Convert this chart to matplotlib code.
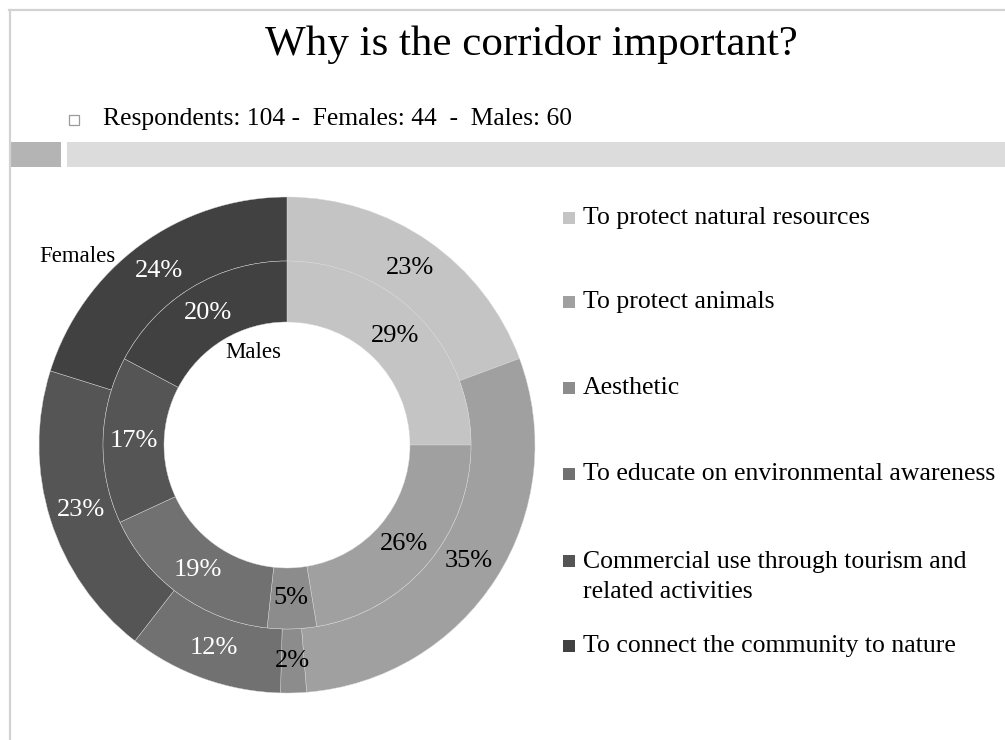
import numpy as np
import matplotlib
matplotlib.use("Agg")
import matplotlib.pyplot as plt
from matplotlib.patches import Rectangle
from matplotlib.lines import Line2D

plt.rcParams['font.family'] = ['Liberation Serif', 'DejaVu Serif']

# Survey answers (percent of respondents in each group)
categories = [
    "To protect natural resources",
    "To protect animals",
    "Aesthetic",
    "To educate on environmental awareness",
    "Commercial use through tourism and\nrelated activities",
    "To connect the community to nature",
]
females = [23, 35, 2, 12, 23, 24]
males = [29, 26, 5, 19, 17, 20]
colors = ["#c4c4c4", "#a0a0a0", "#8c8c8c", "#717171", "#555555", "#414141"]
label_colors = ["black", "black", "black", "white", "white", "white"]

title = "Why is the corridor important?"
subtitle = "Respondents: 104 -  Females: 44  -  Males: 60"

W, H = 1005, 740
fig = plt.figure(figsize=(W / 100, H / 100), dpi=100)

def fx(px):
    return px / W

def fy(py):
    return 1 - py / H

# frame lines along the top and left edges
fig.add_artist(Line2D([fx(9), 1], [fy(10), fy(10)], color="#d2d2d2", lw=1.6))
fig.add_artist(Line2D([fx(9.5), fx(9.5)], [fy(10), 0], color="#d2d2d2", lw=1.6))

# header
fig.text(fx(531), fy(44), title, ha="center", va="center", fontsize=31)
fig.add_artist(Rectangle((fx(69), fy(125)), fx(10), 10 / H, facecolor="white",
                         edgecolor="#9a9a9a", lw=0.9))
fig.text(fx(103), fy(119), subtitle, ha="left", va="center", fontsize=18.4)

# decorative band under the header
fig.add_artist(Rectangle((fx(10), fy(167)), fx(51), 25 / H, facecolor="#b4b4b4",
                         edgecolor="none"))
fig.add_artist(Rectangle((fx(67), fy(167)), 1 - fx(67), 25 / H, facecolor="#dcdcdc",
                         edgecolor="none"))

# double doughnut
cx, cy, R = 287, 445, 248
side = 540
ax = fig.add_axes([fx(cx - side / 2), fy(cy + side / 2), fx(side), side / H])
lim = side / 2 / R

r_out, r_mid, r_in = 1.0, 184 / R, 123 / R
edge = dict(edgecolor="#d9d9d9", linewidth=0.3)

outer, _ = ax.pie(females, radius=r_out, colors=colors, startangle=90,
                  counterclock=False, wedgeprops=dict(width=r_out - r_mid, **edge))
inner, _ = ax.pie(males, radius=r_mid, colors=colors, startangle=90,
                  counterclock=False, wedgeprops=dict(width=r_mid - r_in, **edge))
ax.set_xlim(-lim, lim)
ax.set_ylim(-lim, lim)
ax.set_aspect("equal")
ax.axis("off")

def annotate(wedges, values, radius):
    for w, v, c in zip(wedges, values, label_colors):
        ang = np.deg2rad((w.theta1 + w.theta2) / 2)
        ax.text(radius * np.cos(ang), radius * np.sin(ang), f"{v}%",
                ha="center", va="center", fontsize=19, color=c)

annotate(outer, females, (r_out + r_mid) / 2)
annotate(inner, males, (r_mid + r_in) / 2)

fig.text(fx(77), fy(256), "Females", ha="center", va="center", fontsize=16.5)
fig.text(fx(253), fy(352), "Males", ha="center", va="center", fontsize=16.5)

# legend
rows = [218, 302, 388, 474, 561, 646]
for name, col, y in zip(categories, colors, rows):
    fig.add_artist(Rectangle((fx(563), fy(y + 6)), fx(12), 12 / H,
                             facecolor=col, edgecolor="none"))
    if "\n" in name:
        fig.text(fx(583), fy(y - 10), name, ha="left", va="top", fontsize=18.5,
                 linespacing=1.45)
    else:
        fig.text(fx(583), fy(y), name, ha="left", va="center", fontsize=18.5)

fig.savefig("out.png", dpi=100)
